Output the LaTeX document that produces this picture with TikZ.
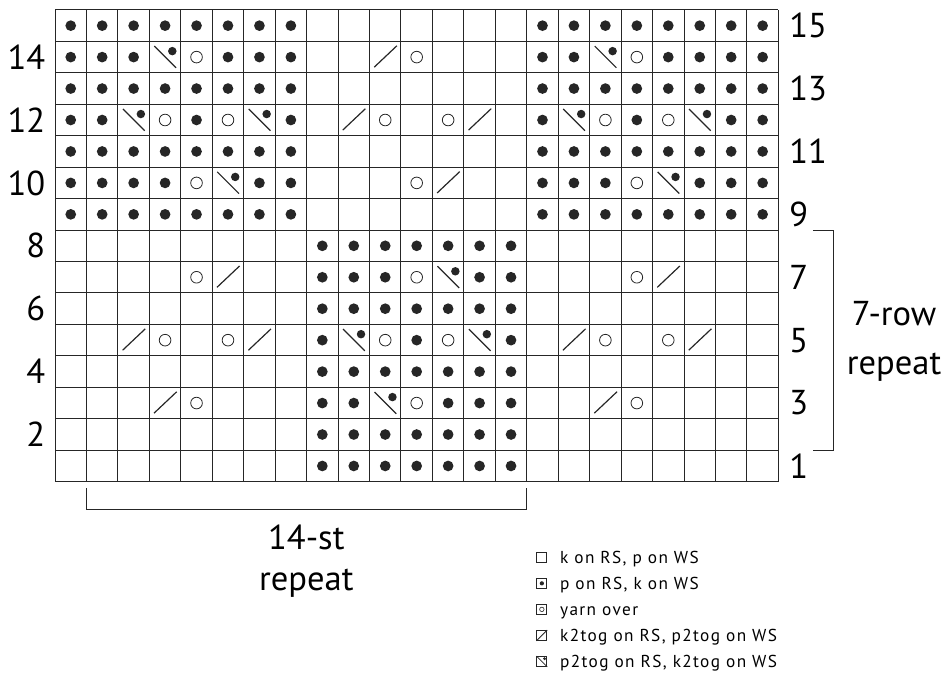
\documentclass[tikz,border=0pt]{standalone}
\usepackage{fontspec}
\setmainfont{PT Sans}
\newfontfamily\keyfont[LetterSpace=8]{PT Sans}
\usetikzlibrary{positioning}

% stitch symbols, #1 = column, #2 = row
\newcommand{\dotst}[2]{\fill[purl] (#1-0.5,#2-0.5) circle (0.17);}
\newcommand{\yarnover}[2]{\draw[yo] (#1-0.5,#2-0.5) circle (0.185);}
\newcommand{\ktog}[2]{\draw[dec] (#1-0.85,#2-0.82) -- (#1-0.13,#2-0.14);}
\newcommand{\ptog}[2]{\draw[dec] (#1-0.84,#2-0.15) -- (#1-0.15,#2-0.84);
    \fill[purl] (#1-0.27,#2-0.31) circle (0.135);}

\begin{document}
\begin{tikzpicture}[
        x=0.832cm, y=0.832cm,
        grid/.style={draw=black!85, line width=0.75pt},
        purl/.style={fill=black!85},
        yo/.style={draw=black!85, line width=0.6pt},
        dec/.style={draw=black!85, line width=0.9pt},
        rownum/.style={inner sep=0pt, font=\fontsize{26}{30}\selectfont},
        reptext/.style={align=center, inner sep=0pt, font=\fontsize{26}{31}\selectfont},
        legbox/.style={draw=black!85, line width=0.6pt, minimum size=7.5pt, inner sep=0pt},
        legtext/.style={inner sep=0pt, text height=9pt, text depth=0pt, font=\keyfont\fontsize{13}{15}\selectfont}
    ]
    \useasboundingbox (-1.749,-6.083) rectangle (28.394,15.316);
    % Chart
    \draw[grid, step=1] (0,0) grid (23,15);
    % full purl rows
    \foreach \r in {9,11,13,15}
        \foreach \c in {1,...,8} {\dotst{\c}{\r} \dotst{\c+15}{\r}}
    \foreach \r in {1,2,4,6,8}
        \foreach \c in {9,...,15} {\dotst{\c}{\r}}
    % lace rows
    \foreach \c in {1,2,3,6,7,8,16,17,20,21,22,23} {\dotst{\c}{14}}
    \foreach \c in {1,2,5,8,16,19,22,23} {\dotst{\c}{12}}
    \foreach \c in {1,2,3,4,7,8,16,17,18,21,22,23} {\dotst{\c}{10}}
    \foreach \c in {9,10,11,14,15} {\dotst{\c}{7}}
    \foreach \c in {9,12,15} {\dotst{\c}{5}}
    \foreach \c in {9,10,13,14,15} {\dotst{\c}{3}}
    \foreach \c/\r in {5/14,19/14,12/14,4/12,6/12,11/12,13/12,18/12,20/12,5/10,12/10,19/10,
        5/7,12/7,19/7,4/5,6/5,11/5,13/5,18/5,20/5,5/3,12/3,19/3} {\yarnover{\c}{\r}}
    \foreach \c/\r in {11/14,10/12,14/12,13/10,6/7,20/7,3/5,7/5,17/5,21/5,4/3,18/3} {\ktog{\c}{\r}}
    \foreach \c/\r in {4/14,18/14,3/12,7/12,17/12,21/12,6/10,20/10,13/7,10/5,14/5,11/3} {\ptog{\c}{\r}}
    % Row numbers
    \foreach \r in {2,4,...,14}
        \node[rownum, anchor=east] (ws\r) at (-0.3,\r-0.5) {\r};
    \foreach \r in {1,3,...,15}
        \node[rownum, anchor=west] (rs\r) at (23.34,\r-0.5) {\r};
    % Repeats
    \draw[grid] (1,-0.2) -- (1,-0.88) -- (15,-0.88) -- (15,-0.2);
    \node[reptext] (strep) at (7.99,-2.52) {14-st\\repeat};
    \draw[grid] (24.1,8) -- (24.74,8) -- (24.74,1) -- (24.1,1);
    \node[reptext] (rowrep) at (26.68,4.46) {7-row\\[6pt]repeat};
    % Key
    \node[legbox] (kk) at (15.48,-2.404) {};
    \node[legbox, below=11.5pt of kk] (kp) {};
    \node[legbox, below=11.5pt of kp] (ky) {};
    \node[legbox, below=11.5pt of ky] (kk2) {};
    \node[legbox, below=11.5pt of kk2] (kp2) {};
    \fill[purl] (kp) circle (1.6pt);
    \draw[yo, line width=0.45pt] (ky) circle (1.7pt);
    \draw[black!85, line width=0.6pt] (kk2.south west) -- (kk2.north east);
    \draw[black!85, line width=0.6pt] (kp2.north west) -- (kp2.south east);
    \fill[purl] ([xshift=-2pt,yshift=-2pt]kp2.north east) circle (1.2pt);
    \node[legtext, right=9.5pt of kk] (tk) {k on RS, p on WS};
    \node[legtext, right=9.5pt of kp] (tp) {p on RS, k on WS};
    \node[legtext, right=9.5pt of ky] (ty) {yarn over};
    \node[legtext, right=9.5pt of kk2] (tk2) {k2tog on RS, p2tog on WS};
    \node[legtext, right=9.5pt of kp2] (tp2) {p2tog on RS, k2tog on WS};
\end{tikzpicture}
\end{document}
